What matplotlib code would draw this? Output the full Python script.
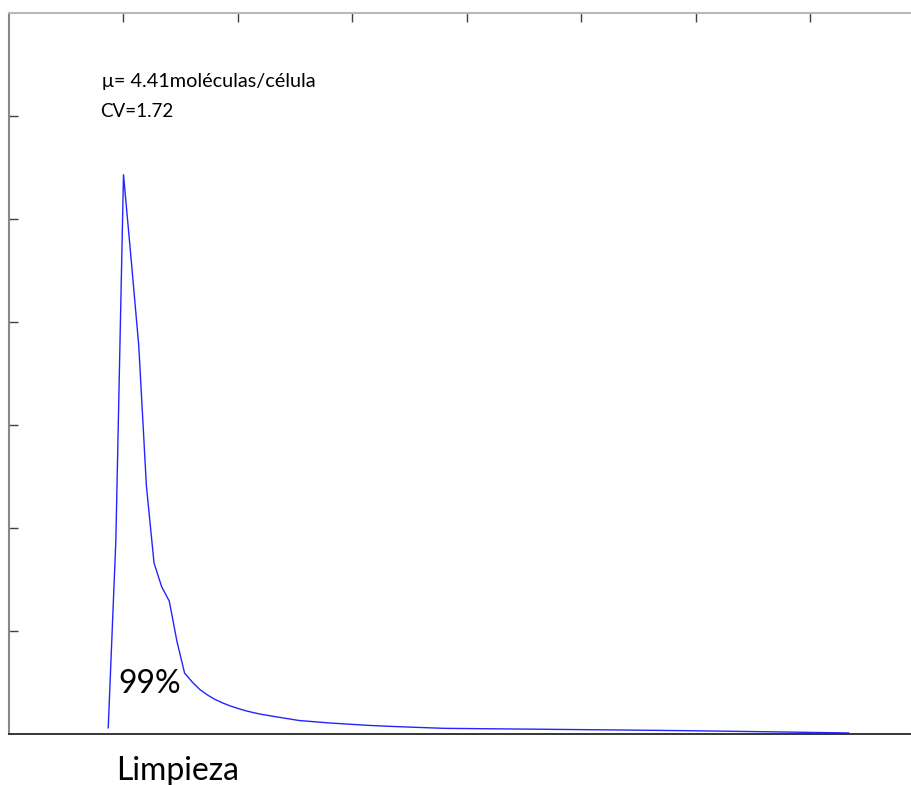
import matplotlib
matplotlib.use("Agg")
import matplotlib.pyplot as plt

# Data (x in molecule units, y in arbitrary density units)
x_vals = [13, 14, 15, 16, 17, 18, 19, 20, 21, 22, 23, 24, 25, 26, 27, 28, 29, 30,
          31, 32, 33, 35, 38, 42, 47, 51, 57, 64, 70, 80, 89, 99, 110]
y_vals = [0.06, 1.88, 5.43, 4.61, 3.77, 2.41, 1.66, 1.43, 1.29, 0.90, 0.592, 0.505,
          0.432, 0.379, 0.335, 0.301, 0.272, 0.248, 0.226, 0.208, 0.192, 0.167,
          0.131, 0.107, 0.084, 0.071, 0.055, 0.050, 0.046, 0.039, 0.032, 0.022, 0.01]
x_ticks = [15, 30, 45, 60, 75, 90, 105]
y_ticks = [1, 2, 3, 4, 5, 6]
stat_text = "μ= 4.41moléculas/célula"
cv_text = "CV=1.72"
pct_text = "99%"
xlabel_text = "Limpieza"

fam = ["Lato", "DejaVu Sans"]

fig = plt.figure(figsize=(9.12, 7.85), dpi=100, facecolor="white")
ax = fig.add_axes([9 / 912, 51 / 785, 1 - 9 / 912, 721 / 785])
ax.plot(x_vals, y_vals, color="#2424ff", lw=1.0)
ax.set_xlim(0, (912 - 9) / 7.633)
ax.set_ylim(0, 7)
ax.set_xticks(x_ticks)
ax.set_yticks(y_ticks)
ax.tick_params(axis="x", top=True, bottom=False, direction="in", length=6.7,
               width=1.0, color="#404040", labeltop=False, labelbottom=False)
ax.tick_params(axis="y", left=True, right=False, direction="in", length=6.7,
               width=1.0, color="#404040", labelleft=False)
ax.spines["right"].set_visible(False)
ax.spines["top"].set_color("#b8b8b8")
ax.spines["top"].set_linewidth(1.5)
ax.spines["left"].set_color("#888888")
ax.spines["left"].set_linewidth(1.5)
ax.spines["bottom"].set_color("#262626")
ax.spines["bottom"].set_linewidth(1.3)

fig.text(102 / 912, (785 - 87) / 785, stat_text, family=fam, fontsize=14.3,
         va="baseline", ha="left", color="black")
fig.text(100 / 912, (785 - 117) / 785, cv_text, family=fam, fontsize=13.5,
         va="baseline", ha="left", color="black")
fig.text(118 / 912, (785 - 693) / 785, pct_text, family=fam, fontsize=23,
         va="baseline", ha="left", color="black")
fig.text(116 / 912, (785 - 780) / 785, xlabel_text, family=fam, fontsize=23,
         va="baseline", ha="left", color="black")

fig.savefig("out.png", dpi=100, facecolor="white")
